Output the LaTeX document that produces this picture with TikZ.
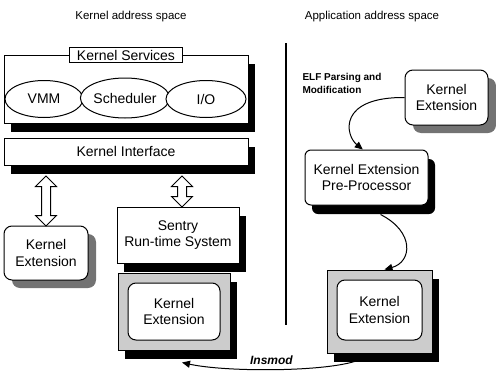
\documentclass[tikz,border=0pt]{standalone}
\usepackage{fontspec}
\setmainfont{Liberation Sans}
\usetikzlibrary{arrows.meta, positioning, shapes.geometric, shapes.arrows, shadows, calc}

\begin{document}
\begin{tikzpicture}[x=1pt, y=-1pt,
    font=\fontsize{14}{16.5}\selectfont,
    box/.style={draw, fill=white, inner sep=0pt, align=center, line width=1pt},
    blackshadow/.style={general shadow={fill=black, shadow xshift=7pt, shadow yshift=-9pt}},
    grayshadow/.style={general shadow={fill=black!55, shadow xshift=8pt, shadow yshift=-8pt}},
    kext/.style={box, rounded corners=8pt},
    kframe/.style={draw, fill=black!20, inner sep=0pt, line width=1pt, blackshadow},
    svc/.style={draw, ellipse, fill=white, inner sep=0pt, line width=1pt},
    dblarrow/.style={draw, fill=white, double arrow, shape border rotate=90,
      inner sep=4pt, double arrow head extend=6pt, line width=1pt},
    flow/.style={-{Triangle[length=8pt,width=7pt]}, line width=1pt}]

  \useasboundingbox (0,0) rectangle (496,370);

  % titles and the divider
  \node[font=\fontsize{11.5}{14}\selectfont] (ktitle) at (131,17) {Kernel address space};
  \node[font=\fontsize{11.5}{14}\selectfont] (atitle) at (372,17) {Application address space};
  \draw[line width=1.5pt] (286,43) -- (286,325);

  % kernel side
  \node[box, blackshadow, minimum width=244pt, minimum height=68pt] (ksvc) at (126,89) {};
  \node[box, minimum width=113pt, minimum height=15pt] (ksvclabel) at (126,55) {Kernel Services};
  \node[svc, minimum width=78pt, minimum height=37pt] (vmm) at (44,99) {VMM};
  \node[svc, minimum width=84pt, minimum height=40pt] (sched) at (125,98) {Scheduler};
  \node[svc, minimum width=80pt, minimum height=37pt] (io) at (206,99) {I/O};

  \node[box, blackshadow, minimum width=244pt, minimum height=27pt] (kiface) at (126,151.5) {Kernel Interface};

  \node[kext, grayshadow, minimum width=84pt, minimum height=54pt] (kextLeft) at (46,253) {Kernel\\Extension};
  \node[box, blackshadow, minimum width=122pt, minimum height=56pt] (sentry) at (178,235) {Sentry\\Run-time System};

  \node[kframe, minimum width=112pt, minimum height=77pt] (kframe) at (174,311.5) {};
  \node[kext, minimum width=92pt, minimum height=57pt] (kframeIn) at (174,311.5) {Kernel\\Extension};

  \node[dblarrow, minimum height=50pt] (arrLeft) at (46,201) {};
  \node[dblarrow, minimum height=31pt] (arrSentry) at (182,191.5) {};

  % application side
  \node[font=\bfseries\fontsize{10}{13}\selectfont, align=left, anchor=west] (elf) at (299,83) {ELF Parsing and\\Modification};
  \node[kext, grayshadow, minimum width=83pt, minimum height=55pt] (kextApp) at (446.5,97.5) {Kernel\\Extension};
  \node[kext, rounded corners=6pt, blackshadow, minimum width=123pt, minimum height=55pt] (preproc) at (366.5,177.5) {Kernel Extension\\Pre-Processor};

  \node[kframe, minimum width=105pt, minimum height=83pt] (appframe) at (379.5,311.5) {};
  \node[kext, minimum width=85pt, minimum height=60pt] (appframeIn) at (379.5,310) {Kernel\\Extension};

  \draw[flow] (kextApp.west) .. controls (338,97) and (345,135) .. ($(preproc.north west)!0.47!(preproc.north east)$);
  \draw[flow] ($(preproc.south)+(14,9)$) .. controls (415,232) and (412,262) .. ($(appframe.north)+(5,0)$);
  \draw[flow] ($(appframe.south)+(-25,8)$) .. controls (320,372) and (225,372) .. ($(kframe.south)+(8,12)$)
    node[midway, above=1pt, font=\bfseries\itshape\fontsize{12}{14}\selectfont] (insmod) {Insmod};
\end{tikzpicture}
\end{document}
